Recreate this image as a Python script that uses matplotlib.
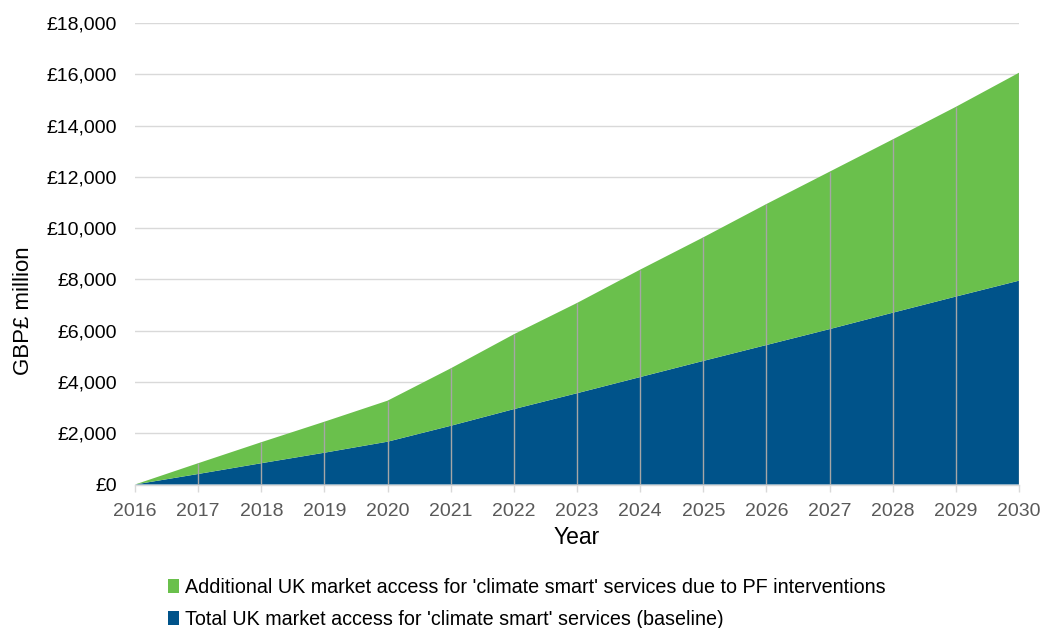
import matplotlib
matplotlib.use("Agg")
import matplotlib.pyplot as plt
from matplotlib.ticker import FuncFormatter
from matplotlib.patches import Patch

plt.rcParams['font.family'] = ['Liberation Sans', 'DejaVu Sans']

years = [2016, 2017, 2018, 2019, 2020, 2021, 2022, 2023,
         2024, 2025, 2026, 2027, 2028, 2029, 2030]
baseline = [0, 410, 830, 1240, 1670, 2290, 2940, 3560,
            4190, 4820, 5440, 6060, 6700, 7330, 7950]
total = [0, 830, 1650, 2450, 3270, 4530, 5860, 7080,
         8380, 9640, 10940, 12200, 13460, 14730, 16060]
additional = [t - b for t, b in zip(total, baseline)]

label_additional = "Additional UK market access for 'climate smart' services due to PF interventions"
label_baseline = "Total UK market access for 'climate smart' services (baseline)"

blue = "#00538A"
green = "#6AC04C"

fig = plt.figure(figsize=(10.46, 6.28), dpi=100)
ax = fig.add_axes([135 / 1046, 1 - 484.5 / 628, (1019 - 135) / 1046, (484.5 - 23) / 628])

ax.stackplot(years, baseline, additional, colors=[blue, green], linewidth=0, zorder=2)

# drop lines from the axis up to the stacked total
ax.vlines(years[1:], 0, total[1:], colors="#A6A6A6", linewidth=1.0, zorder=3)

ax.set_xlim(years[0], years[-1])
ax.set_ylim(0, 18000)
ax.set_yticks(range(0, 18001, 2000))
ax.yaxis.set_major_formatter(FuncFormatter(lambda v, p: f"£{int(v):,}"))
ax.set_xticks(years)
ax.grid(axis='y', color="#D9D9D9", linewidth=1.0, zorder=0)
ax.set_axisbelow(True)

for s in ['top', 'right', 'left']:
    ax.spines[s].set_visible(False)
ax.spines['bottom'].set_color("#D9D9D9")
ax.spines['bottom'].set_linewidth(1.0)
ax.spines['bottom'].set_zorder(4)

ax.tick_params(axis='y', length=0, labelsize=14, labelcolor="#000000", pad=13)
ax.tick_params(axis='x', length=5, width=1, color="#D9D9D9", labelsize=14,
               labelcolor="#595959", pad=8)

ax.set_xlabel("Year", fontsize=16.5, labelpad=5)
ax.set_ylabel("GBP£ million", fontsize=16)
ax.yaxis.set_label_coords(-(135 - 34) / 884, (484.5 - 311) / 461.5)

handles = [Patch(facecolor=green, edgecolor='none'), Patch(facecolor=blue, edgecolor='none')]
fig.legend(handles, [label_additional, label_baseline], loc='upper left',
           bbox_to_anchor=(168 / 1046, 1 - 578 / 628), frameon=False, fontsize=14.2,
           handlelength=0.55, handleheight=0.75, handletextpad=0.3, labelspacing=0.65,
           borderaxespad=0, borderpad=0)

fig.savefig("out.png", dpi=100, facecolor="white")
